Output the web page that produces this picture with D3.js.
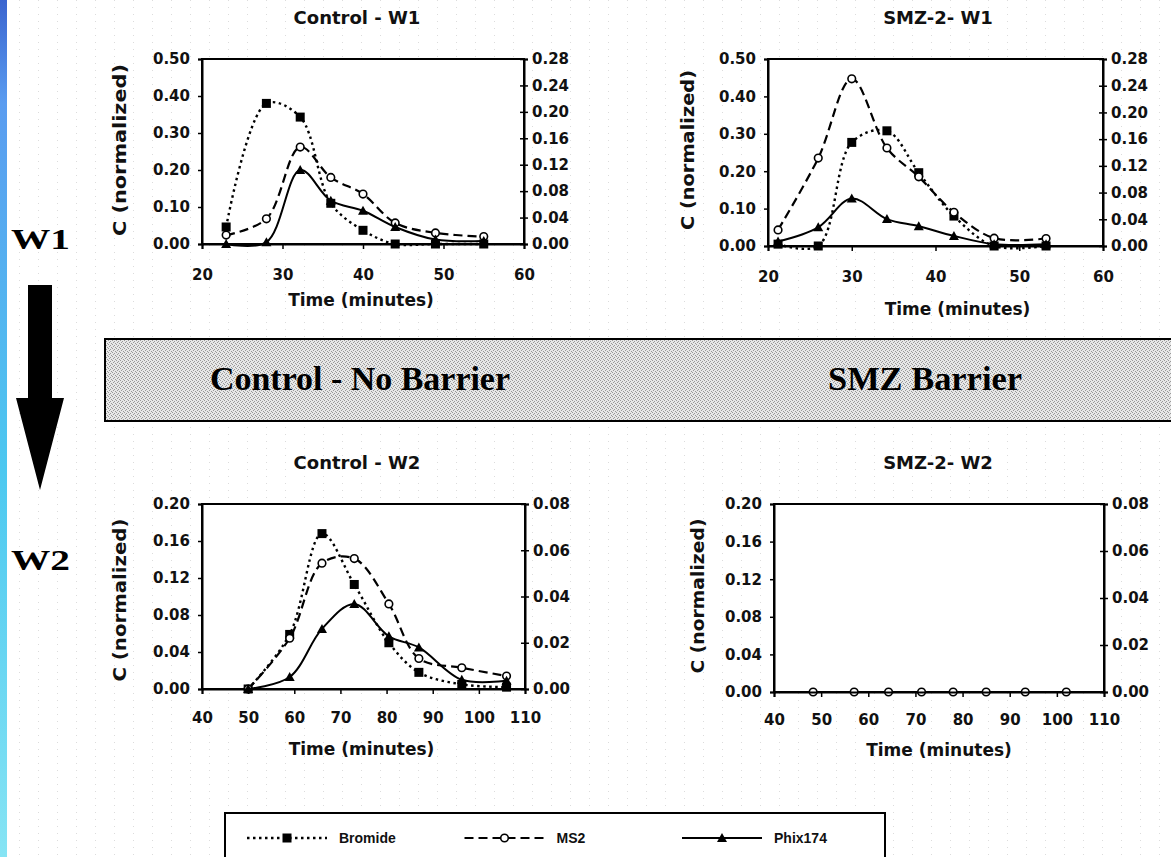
<!DOCTYPE html>
<html>
<head>
<meta charset="utf-8">
<script src="https://cdn.jsdelivr.net/npm/d3@7"></script>
<style>
  body { margin: 0; background: #fff; }
  svg { display: block; }
  .tick text { font-family: "DejaVu Sans", sans-serif; font-weight: bold; font-size: 15px; fill: #111; }
  .lbl { font-family: "DejaVu Sans", sans-serif; font-weight: bold; fill: #111; }
  .leg { font-family: "Liberation Sans", Arial, sans-serif; font-weight: bold; fill: #111; }
  .serif { font-family: "Liberation Serif", "Times New Roman", serif; font-weight: bold; fill: #000; }
</style>
</head>
<body>
<svg id="chart" width="1171" height="857"></svg>
<script>
// Control - W1
const cw1Time = [23, 28, 32.2, 36, 40, 44, 49, 55];
const cw1Bromide = [0.046, 0.38, 0.343, 0.11, 0.037, 0.0, 0.0, 0.0];
const cw1MS2 = [0.024, 0.068, 0.262, 0.18, 0.135, 0.057, 0.03, 0.02];
const cw1Phix = [0.0, 0.005, 0.2, 0.117, 0.09, 0.046, 0.012, 0.008];

// SMZ-2 - W1
const sw1Time = [21.2, 26, 30, 34.2, 38, 42.2, 47, 53.2];
const sw1Bromide = [0.005, 0.0, 0.277, 0.308, 0.196, 0.08, 0.0, 0.0];
const sw1MS2 = [0.043, 0.235, 0.447, 0.262, 0.185, 0.09, 0.021, 0.02];
const sw1Phix = [0.012, 0.05, 0.127, 0.072, 0.053, 0.027, 0.005, 0.005];

// Control - W2
const cw2Time = [50, 59, 66, 73, 80.5, 87, 96.3, 106];
const cw2Bromide = [0.0, 0.059, 0.168, 0.113, 0.05, 0.018, 0.005, 0.002];
const cw2MS2 = [0.0, 0.055, 0.136, 0.141, 0.092, 0.033, 0.023, 0.014];
const cw2Phix = [0.0, 0.013, 0.065, 0.092, 0.057, 0.045, 0.01, 0.009];

// SMZ-2 - W2 (nothing detected)
const sw2Time = [48.3, 57, 64.3, 71.3, 78, 85, 93.3, 102];
const sw2MS2 = [0, 0, 0, 0, 0, 0, 0, 0];

const seriesNames = ["Bromide", "MS2", "Phix174"];
const topXTicks = [20, 30, 40, 50, 60];
const bottomXTicks = [40, 50, 60, 70, 80, 90, 100, 110];
const topLeftTicks = [0, 0.1, 0.2, 0.3, 0.4, 0.5];
const topRightTicks = [0, 0.04, 0.08, 0.12, 0.16, 0.2, 0.24, 0.28];
const bottomLeftTicks = [0, 0.04, 0.08, 0.12, 0.16, 0.2];
const bottomRightTicks = [0, 0.02, 0.04, 0.06, 0.08];

const svg = d3.select("#chart");
const defs = svg.append("defs");

// left blue strip
const grad = defs.append("linearGradient").attr("id", "strip")
  .attr("x1", 0).attr("y1", 0).attr("x2", 0).attr("y2", 1);
grad.append("stop").attr("offset", "0%").attr("stop-color", "#3a64cf");
grad.append("stop").attr("offset", "12%").attr("stop-color", "#5a9cf0");
grad.append("stop").attr("offset", "55%").attr("stop-color", "#4cc8f0");
grad.append("stop").attr("offset", "100%").attr("stop-color", "#86e4f4");

// faint dotted background
const bg = defs.append("pattern").attr("id", "bgdots")
  .attr("patternUnits", "userSpaceOnUse").attr("width", 19).attr("height", 7);
bg.append("rect").attr("x", 0).attr("y", 0).attr("width", 1).attr("height", 1).attr("fill", "#dcdcdc");

// stipple for the banner
const st = defs.append("pattern").attr("id", "stipple")
  .attr("patternUnits", "userSpaceOnUse").attr("width", 4).attr("height", 4);
st.append("rect").attr("width", 4).attr("height", 4).attr("fill", "#e8e8e8");
[[0, 0], [2, 1], [1, 2], [3, 3]].forEach(([x, y]) => {
  st.append("rect").attr("x", x).attr("y", y).attr("width", 1).attr("height", 1).attr("fill", "#999");
});

svg.append("rect").attr("width", 1171).attr("height", 857).attr("fill", "url(#bgdots)");
svg.append("rect").attr("x", 0).attr("y", 0).attr("width", 7).attr("height", 857).attr("fill", "url(#strip)");

const styles = {
  Bromide: { dash: "2.5,3.5", marker: "square", width: 2.4 },
  MS2: { dash: "9,5", marker: "circle", width: 2.2 },
  Phix174: { dash: null, marker: "triangle", width: 2 }
};

function drawMarker(g, type, x, y) {
  if (type === "square") {
    g.append("rect").attr("x", x - 4.5).attr("y", y - 4.5).attr("width", 9).attr("height", 9).attr("fill", "#000");
  } else if (type === "circle") {
    g.append("circle").attr("cx", x).attr("cy", y).attr("r", 3.8)
      .attr("fill", "#fff").attr("stroke", "#000").attr("stroke-width", 1.6);
  } else {
    g.append("path").attr("d", `M${x},${y - 5}L${x + 5},${y + 4}L${x - 5},${y + 4}Z`).attr("fill", "#000");
  }
}

function drawPanel(p) {
  const x = d3.scaleLinear().domain(p.xDomain).range([p.left, p.right]);
  const yL = d3.scaleLinear().domain([0, d3.max(p.leftTicks)]).range([p.bottom, p.top]);
  const yR = d3.scaleLinear().domain([0, d3.max(p.rightTicks)]).range([p.bottom, p.top]);
  const g = svg.append("g");

  g.append("rect").attr("x", p.left).attr("y", p.top)
    .attr("width", p.right - p.left).attr("height", p.bottom - p.top)
    .attr("fill", "#fff").attr("stroke", "#000").attr("stroke-width", 2);

  const line = d3.line().x(d => x(d[0])).y(d => yL(d[1])).curve(d3.curveCatmullRom.alpha(0.5));

  p.series.forEach(s => {
    const st = styles[s.name];
    const pts = p.time.map((t, i) => [t, s.values[i]]);
    g.append("path").datum(pts).attr("d", line)
      .attr("fill", "none").attr("stroke", "#000").attr("stroke-width", st.width)
      .attr("stroke-dasharray", st.dash);
    pts.forEach(d => drawMarker(g, p.marker || st.marker, x(d[0]), yL(d[1])));
  });

  const ax = g.append("g").attr("transform", `translate(0,${p.bottom})`)
    .call(d3.axisBottom(x).tickValues(p.xTicks).tickFormat(d3.format("d")).tickSizeOuter(0).tickSize(5).tickPadding(p.xPad));
  const ayL = g.append("g").attr("transform", `translate(${p.left},0)`)
    .call(d3.axisLeft(yL).tickValues(p.leftTicks).tickFormat(d3.format(".2f")).tickSizeOuter(0).tickSize(4).tickPadding(8));
  const ayR = g.append("g").attr("transform", `translate(${p.right},0)`)
    .call(d3.axisRight(yR).tickValues(p.rightTicks).tickFormat(d3.format(".2f")).tickSizeOuter(0).tickSize(4).tickPadding(4));
  ayR.selectAll(".tick line").attr("x1", -4);
  [ax, ayL, ayR].forEach(a => {
    a.select(".domain").attr("stroke-width", 2);
    a.selectAll(".tick line").attr("stroke-width", 1.5);
  });

  svg.append("text").attr("class", "lbl").attr("x", p.titleX).attr("y", p.top - 35)
    .attr("text-anchor", "middle").attr("font-size", 18).text(p.title);
  svg.append("text").attr("class", "lbl").attr("x", (p.left + p.right) / 2 + p.timeDx).attr("y", p.timeY)
    .attr("text-anchor", "middle").attr("font-size", 17).text("Time (minutes)");
  svg.append("text").attr("class", "lbl")
    .attr("transform", `translate(${p.yLabX},${p.yLabY}) rotate(-90)`)
    .attr("text-anchor", "middle").attr("font-size", 17)
    .attr("textLength", p.yLabLen).attr("lengthAdjust", "spacingAndGlyphs")
    .text("C (normalized)");
}

drawPanel({
  title: "Control - W1", titleX: 357, left: 202, right: 524, top: 59, bottom: 244,
  xDomain: [20, 60], xTicks: topXTicks, leftTicks: topLeftTicks, rightTicks: topRightTicks, xPad: 20,
  time: cw1Time,
  series: [{ name: "Bromide", values: cw1Bromide }, { name: "MS2", values: cw1MS2 }, { name: "Phix174", values: cw1Phix }],
  timeDx: -2, timeY: 306, yLabX: 126, yLabY: 150, yLabLen: 172
});
drawPanel({
  title: "SMZ-2- W1", titleX: 938, left: 768, right: 1103, top: 59, bottom: 246,
  xDomain: [20, 60], xTicks: topXTicks, leftTicks: topLeftTicks, rightTicks: topRightTicks, xPad: 20,
  time: sw1Time,
  series: [{ name: "Bromide", values: sw1Bromide }, { name: "MS2", values: sw1MS2 }, { name: "Phix174", values: sw1Phix }],
  timeDx: 22, timeY: 315, yLabX: 694, yLabY: 150, yLabLen: 160
});
drawPanel({
  title: "Control - W2", titleX: 357, left: 202, right: 525, top: 504, bottom: 689,
  xDomain: [40, 110], xTicks: bottomXTicks, leftTicks: bottomLeftTicks, rightTicks: bottomRightTicks, xPad: 18,
  time: cw2Time,
  series: [{ name: "Bromide", values: cw2Bromide }, { name: "MS2", values: cw2MS2 }, { name: "Phix174", values: cw2Phix }],
  timeDx: -2, timeY: 755, yLabX: 126, yLabY: 600, yLabLen: 163
});
drawPanel({
  title: "SMZ-2- W2", titleX: 938, left: 774, right: 1104, top: 504, bottom: 692,
  xDomain: [40, 110], xTicks: bottomXTicks, leftTicks: bottomLeftTicks, rightTicks: bottomRightTicks, xPad: 17,
  time: sw2Time, marker: "circle",
  series: [{ name: "MS2", values: sw2MS2 }],
  timeDx: 0, timeY: 756, yLabX: 704, yLabY: 596, yLabLen: 155
});

// banner
svg.append("rect").attr("x", 105).attr("y", 339).attr("width", 1080).attr("height", 82)
  .attr("fill", "url(#stipple)").attr("stroke", "#000").attr("stroke-width", 2);
svg.append("text").attr("class", "serif").attr("x", 210).attr("y", 390).attr("font-size", 34)
  .attr("textLength", 300).attr("lengthAdjust", "spacingAndGlyphs").text("Control - No Barrier");
svg.append("text").attr("class", "serif").attr("x", 828).attr("y", 390).attr("font-size", 34)
  .attr("textLength", 194).attr("lengthAdjust", "spacingAndGlyphs").text("SMZ Barrier");

// W1 -> W2 arrow
svg.append("text").attr("class", "serif").attr("x", 11).attr("y", 249).attr("font-size", 30)
  .attr("textLength", 59).attr("lengthAdjust", "spacingAndGlyphs").text("W1");
svg.append("text").attr("class", "serif").attr("x", 11).attr("y", 570).attr("font-size", 30)
  .attr("textLength", 59).attr("lengthAdjust", "spacingAndGlyphs").text("W2");
svg.append("path").attr("d", "M28,285L52,285L52,398L64,398L40,490L16,398L28,398Z").attr("fill", "#000");

// legend
const lg = svg.append("g");
lg.append("rect").attr("x", 225).attr("y", 813).attr("width", 660).attr("height", 60)
  .attr("fill", "#fff").attr("stroke", "#000").attr("stroke-width", 2);
const legendX = d3.scalePoint().domain(seriesNames).range([247, 682]);
seriesNames.forEach(name => {
  const st = styles[name];
  const x0 = legendX(name);
  lg.append("line").attr("x1", x0).attr("x2", x0 + 80).attr("y1", 838).attr("y2", 838)
    .attr("stroke", "#000").attr("stroke-width", st.width).attr("stroke-dasharray", st.dash);
  drawMarker(lg, st.marker, x0 + 40, 838);
  lg.append("text").attr("class", "leg").attr("x", x0 + 92).attr("y", 843).attr("font-size", 14).text(name);
});
</script>
</body>
</html>
